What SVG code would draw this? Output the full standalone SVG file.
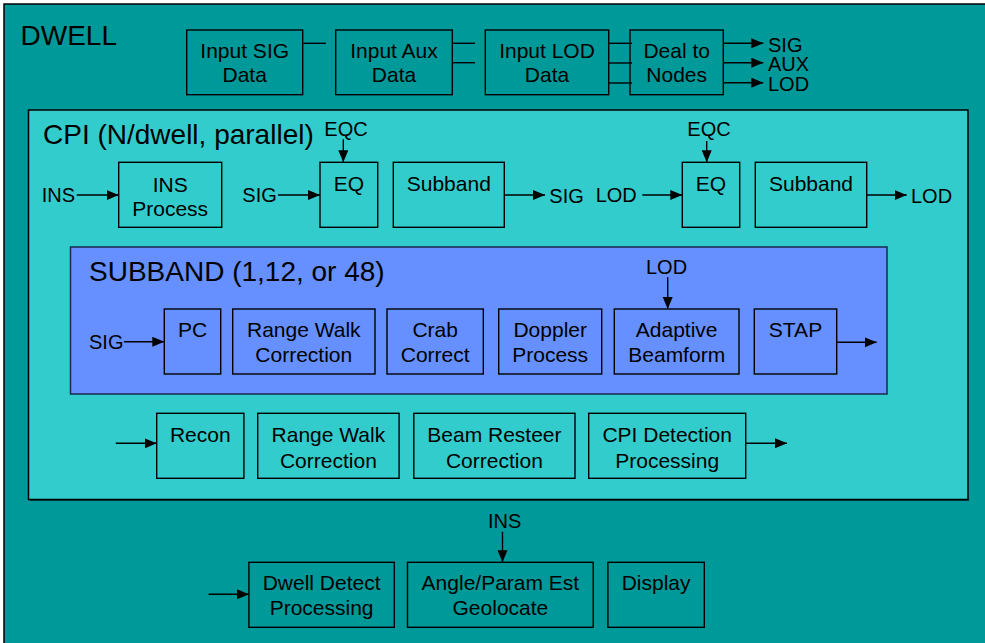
<svg xmlns="http://www.w3.org/2000/svg" width="985" height="643" viewBox="0 0 985 643">
<style>
.box{fill:none;stroke:#000;stroke-width:1.4}
.t{font-family:"Liberation Sans",Arial,sans-serif;font-size:21px;fill:#000;text-anchor:middle}
.l{font-family:"Liberation Sans",Arial,sans-serif;font-size:20px;fill:#000}
.big{font-family:"Liberation Sans",Arial,sans-serif;font-size:28px;fill:#000}
.c{fill:none;stroke:#000;stroke-width:1.4}
.a{fill:none;stroke:#000;stroke-width:1.4;marker-end:url(#ah)}
</style>
<defs>
<marker id="ah" markerUnits="userSpaceOnUse" markerWidth="13" markerHeight="11" refX="12" refY="5" orient="auto">
<path d="M0,0 L12,5 L0,10 z" fill="#000"/>
</marker>
</defs>
<rect x="0" y="0" width="985" height="643" fill="#ffffff"/>
<g id="dwell">
<rect x="4" y="4" width="990" height="650" fill="#009999" stroke="#000" stroke-width="1.5"/>
<text class="big" x="20.5" y="45">DWELL</text>
</g>
<g id="cpi">
<rect x="28.5" y="110" width="939.5" height="389.5" fill="#33CCCC" stroke="#000" stroke-width="1.5"/>
<line x1="30" y1="500.5" x2="969" y2="500.5" stroke="#003333" stroke-width="1"/>
<text class="big" x="43" y="144">CPI (N/dwell, parallel)</text>
</g>
<g id="subband">
<rect x="70.5" y="247" width="816.5" height="147" fill="#6690FF" stroke="#1a2a4a" stroke-width="1.5"/>
<text class="big" x="89" y="281">SUBBAND (1,12, or 48)</text>
</g>

<g id="n-input-sig"><rect class="box" x="186.7" y="30" width="116" height="64.7"/><text class="t" x="244.7" y="58.3">Input SIG</text><text class="t" x="244.7" y="82.3">Data</text></g>
<g id="n-input-aux"><rect class="box" x="335.7" y="30" width="116.6" height="64.7"/><text class="t" x="394" y="58.3">Input Aux</text><text class="t" x="394" y="82.3">Data</text></g>
<g id="n-input-lod"><rect class="box" x="485.3" y="30" width="123.4" height="64.7"/><text class="t" x="547" y="58.3">Input LOD</text><text class="t" x="547" y="82.3">Data</text></g>
<g id="n-deal"><rect class="box" x="630" y="30" width="93.3" height="64.7"/><text class="t" x="676.7" y="58.3">Deal to</text><text class="t" x="676.7" y="82.3">Nodes</text></g>

<g id="n-ins-process"><rect class="box" x="118.7" y="162.3" width="103" height="65"/><text class="t" x="170.2" y="191.7">INS</text><text class="t" x="170.2" y="215.5">Process</text></g>
<g id="n-eq1"><rect class="box" x="320" y="162.3" width="57.7" height="65"/><text class="t" x="348.8" y="190.7">EQ</text></g>
<g id="n-subband1"><rect class="box" x="393.3" y="162.3" width="111" height="65"/><text class="t" x="448.8" y="190.7">Subband</text></g>
<g id="n-eq2"><rect class="box" x="682.3" y="162.3" width="57.4" height="65"/><text class="t" x="711" y="190.7">EQ</text></g>
<g id="n-subband2"><rect class="box" x="755.3" y="162.3" width="111.4" height="65"/><text class="t" x="811" y="190.7">Subband</text></g>

<g id="n-pc"><rect class="box" x="164.3" y="309" width="56.4" height="65"/><text class="t" x="192.5" y="337">PC</text></g>
<g id="n-rwc1"><rect class="box" x="232.7" y="309" width="142.3" height="65"/><text class="t" x="303.8" y="336.7">Range Walk</text><text class="t" x="303.8" y="362.3">Correction</text></g>
<g id="n-crab"><rect class="box" x="387" y="309" width="96.3" height="65"/><text class="t" x="435.2" y="336.7">Crab</text><text class="t" x="435.2" y="362.3">Correct</text></g>
<g id="n-doppler"><rect class="box" x="498.7" y="309" width="103" height="65"/><text class="t" x="550.2" y="336.7">Doppler</text><text class="t" x="550.2" y="362.3">Process</text></g>
<g id="n-adaptive"><rect class="box" x="614.3" y="309" width="124.7" height="65"/><text class="t" x="676.7" y="336.7">Adaptive</text><text class="t" x="676.7" y="362.3">Beamform</text></g>
<g id="n-stap"><rect class="box" x="754.3" y="309" width="82.4" height="65"/><text class="t" x="795.5" y="337">STAP</text></g>

<g id="n-recon"><rect class="box" x="156.7" y="413.3" width="87.2" height="65"/><text class="t" x="200.3" y="441.7">Recon</text></g>
<g id="n-rwc2"><rect class="box" x="257.7" y="413.3" width="141.4" height="65"/><text class="t" x="328.4" y="441.7">Range Walk</text><text class="t" x="328.4" y="468.3">Correction</text></g>
<g id="n-beam"><rect class="box" x="413.8" y="413.3" width="161.2" height="65"/><text class="t" x="494.4" y="441.7">Beam Resteer</text><text class="t" x="494.4" y="468.3">Correction</text></g>
<g id="n-cpidet"><rect class="box" x="588.7" y="413.3" width="157" height="65"/><text class="t" x="667.2" y="441.7">CPI Detection</text><text class="t" x="667.2" y="468.3">Processing</text></g>

<g id="n-dwelldet"><rect class="box" x="248.9" y="562.3" width="145.4" height="65"/><text class="t" x="321.6" y="590">Dwell Detect</text><text class="t" x="321.6" y="615">Processing</text></g>
<g id="n-angle"><rect class="box" x="407.5" y="562.3" width="185.7" height="65"/><text class="t" x="500.4" y="590">Angle/Param Est</text><text class="t" x="500.4" y="615">Geolocate</text></g>
<g id="n-display"><rect class="box" x="607.9" y="562.3" width="96.4" height="65"/><text class="t" x="656.1" y="590">Display</text></g>

<g id="labels">
<text class="l" x="768" y="52">SIG</text>
<text class="l" x="768" y="71">AUX</text>
<text class="l" x="768" y="90.7">LOD</text>
<text class="l" x="324.3" y="136">EQC</text>
<text class="l" x="687.3" y="136">EQC</text>
<text class="l" x="41.7" y="202">INS</text>
<text class="l" x="242.3" y="201.5">SIG</text>
<text class="l" x="549.3" y="203.3">SIG</text>
<text class="l" x="595.7" y="202.3">LOD</text>
<text class="l" x="911" y="203.3">LOD</text>
<text class="l" x="89" y="349.3">SIG</text>
<text class="l" x="646" y="274">LOD</text>
<text class="l" x="487.9" y="528.3">INS</text>
</g>

<g id="connectors">
<line class="c" x1="302.7" y1="43.3" x2="326" y2="43.3"/>
<line class="c" x1="452.3" y1="43.3" x2="475" y2="43.3"/>
<line class="c" x1="452.3" y1="62.7" x2="475" y2="62.7"/>
<line class="c" x1="608.7" y1="43.3" x2="632" y2="43.3"/>
<line class="c" x1="608.7" y1="63" x2="632" y2="63"/>
<line class="c" x1="608.7" y1="83" x2="632" y2="83"/>
<line class="a" x1="723.3" y1="43.3" x2="763.3" y2="43.3"/>
<line class="a" x1="723.3" y1="62.7" x2="763.3" y2="62.7"/>
<line class="a" x1="723.3" y1="82.7" x2="763.3" y2="82.7"/>
<line class="a" x1="76.7" y1="195" x2="118.7" y2="195"/>
<line class="a" x1="278" y1="195" x2="320" y2="195"/>
<line class="a" x1="343.3" y1="139.3" x2="343.3" y2="162.3"/>
<line class="a" x1="504.3" y1="195" x2="545" y2="195"/>
<line class="a" x1="642.3" y1="195" x2="682.3" y2="195"/>
<line class="a" x1="706.7" y1="141" x2="706.7" y2="162.3"/>
<line class="a" x1="866.7" y1="195" x2="906.7" y2="195"/>
<line class="a" x1="124" y1="341.7" x2="164.3" y2="341.7"/>
<line class="a" x1="667.7" y1="277.3" x2="667.7" y2="309"/>
<line class="a" x1="836.7" y1="342.3" x2="876.7" y2="342.3"/>
<line class="a" x1="115.8" y1="443.3" x2="156.7" y2="443.3"/>
<line class="a" x1="745.7" y1="443.3" x2="787" y2="443.3"/>
<line class="a" x1="208.6" y1="594.3" x2="248.9" y2="594.3"/>
<line class="a" x1="502.5" y1="531.7" x2="502.5" y2="562.3"/>
</g>
</svg>
